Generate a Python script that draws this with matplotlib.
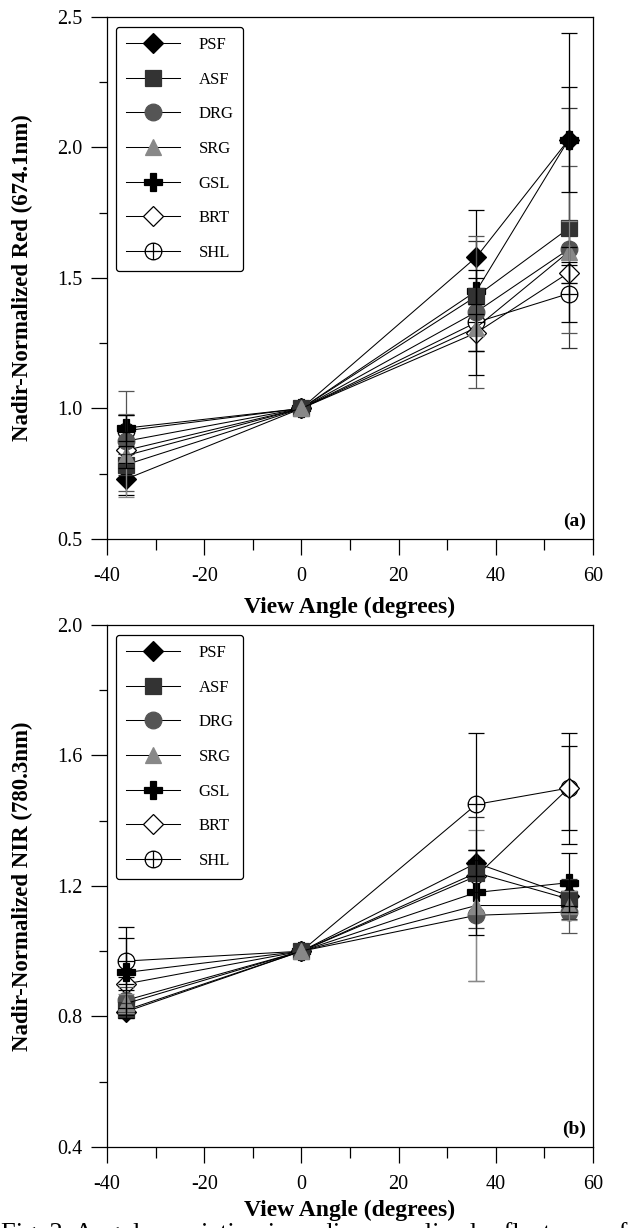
#!/usr/bin/env python

import numpy
from matplotlib import pyplot, ticker
from matplotlib.path import Path

angles = [-36, 0, 36, 55]
sites = ["PSF", "ASF", "DRG", "SRG", "GSL", "BRT", "SHL"]

# nadir-normalized red (674.1 nm), mean and spread per site
red_psf = [0.73, 1.00, 1.58, 2.03]
red_asf = [0.785, 1.00, 1.43, 1.69]
red_drg = [0.875, 1.00, 1.37, 1.61]
red_srg = [0.82, 1.00, 1.31, 1.60]
red_gsl = [0.925, 1.00, 1.45, 2.03]
red_brt = [0.84, 1.00, 1.29, 1.52]
red_shl = [0.915, 1.00, 1.33, 1.44]

red_psf_err = [0.06, 0.0, 0.18, 0.41]
red_asf_err = [0.04, 0.0, 0.21, 0.46]
red_drg_err = [0.19, 0.0, 0.29, 0.32]
red_srg_err = [0.16, 0.0, 0.09, 0.12]
red_gsl_err = [0.05, 0.0, 0.05, 0.20]
red_brt_err = [0.07, 0.0, 0.07, 0.04]
red_shl_err = [0.06, 0.0, 0.20, 0.11]

# nadir-normalized NIR (780.3 nm)
nir_psf = [0.815, 1.00, 1.27, 1.17]
nir_asf = [0.82, 1.00, 1.24, 1.16]
nir_drg = [0.85, 1.00, 1.11, 1.12]
nir_srg = [0.84, 1.00, 1.14, 1.14]
nir_gsl = [0.935, 1.00, 1.18, 1.21]
nir_brt = [0.90, 1.00, 1.23, 1.50]
nir_shl = [0.97, 1.00, 1.45, 1.50]

nir_psf_err = [0.01, 0.0, 0.04, 0.03]
nir_asf_err = [0.02, 0.0, 0.17, 0.06]
nir_drg_err = [0.04, 0.0, 0.20, 0.065]
nir_srg_err = [0.03, 0.0, 0.23, 0.045]
nir_gsl_err = [0.14, 0.0, 0.13, 0.09]
nir_brt_err = [0.02, 0.0, 0.05, 0.13]
nir_shl_err = [0.07, 0.0, 0.22, 0.17]


def circle_cross():
    circle = Path.unit_circle()
    verts = numpy.concatenate([circle.vertices, [[-1, 0], [1, 0], [0, -1], [0, 1]]])
    codes = numpy.concatenate(
        [circle.codes, [Path.MOVETO, Path.LINETO, Path.MOVETO, Path.LINETO]]
    )
    return Path(verts, codes)


styles = {
    "PSF": dict(marker="D", ms=10, fc="black", ec="black", z=4),
    "ASF": dict(marker="s", ms=11.5, fc="#333333", ec="#333333", z=6),
    "DRG": dict(marker="o", ms=12, fc="#555555", ec="#555555", z=5),
    "SRG": dict(marker="^", ms=12, fc="#888888", ec="#888888", z=7),
    "GSL": dict(marker="P", ms=13, fc="black", ec="black", z=3),
    "BRT": dict(marker="D", ms=10, fc="white", ec="black", z=2),
    "SHL": dict(marker=circle_cross(), ms=12, fc="white", ec="black", z=1),
}


def panel(ax, values, errors, ylim, step, ylabel, tag, xlabel_y):
    x = numpy.array(angles)
    for name, y, e in zip(sites, values, errors):
        st = styles[name]
        y = numpy.array(y)
        e = numpy.array(e)
        ax.plot(x, y, color="black", lw=0.75, marker=st["marker"], ms=st["ms"],
                mfc=st["fc"], mec=st["ec"], mew=0.9, label=name, zorder=st["z"])
        m = e > 0
        ax.errorbar(x[m], y[m], yerr=e[m], fmt="none", ecolor=st["ec"],
                    elinewidth=0.9, capsize=5.5, capthick=0.9, zorder=8)

    ax.set_xlim(-40, 60)
    ax.set_ylim(*ylim)
    ax.xaxis.set_major_locator(ticker.MultipleLocator(20))
    ax.xaxis.set_minor_locator(ticker.MultipleLocator(10))
    ax.yaxis.set_major_locator(ticker.MultipleLocator(step))
    ax.yaxis.set_minor_locator(ticker.MultipleLocator(step / 2))
    ax.yaxis.set_major_formatter(ticker.FormatStrFormatter("%.1f"))

    ax.tick_params(which="both", direction="out", top=False, right=False, width=0.9)
    ax.tick_params(which="major", length=11.5, labelsize=14.5)
    ax.tick_params(axis="y", which="major", pad=6)
    ax.tick_params(axis="x", which="major", pad=9)
    ax.tick_params(axis="x", which="minor", length=8)
    ax.tick_params(axis="y", which="minor", length=6)
    for s in ax.spines.values():
        s.set_linewidth(0.9)

    ax.set_xlabel("View Angle (degrees)", fontsize=17, fontweight="bold")
    ax.xaxis.set_label_coords(0.5, xlabel_y)
    ax.set_ylabel(ylabel, fontsize=16.5, fontweight="bold")
    ax.yaxis.set_label_coords(-0.173, 0.5)
    ax.yaxis.label.set_verticalalignment("center")

    ax.text(0.985, 0.018, tag, transform=ax.transAxes, ha="right", va="bottom",
            fontsize=14, fontweight="bold")

    leg = ax.legend(loc="upper left", bbox_to_anchor=(0.0185, 0.981),
                    borderaxespad=0, fontsize=12, handlelength=3.25,
                    handletextpad=1.1, labelspacing=1.12, borderpad=0.6,
                    fancybox=True, framealpha=1)
    leg.get_frame().set_edgecolor("black")
    leg.get_frame().set_linewidth(0.9)


def plot():
    pyplot.rcParams["font.family"] = ["Liberation Serif", "DejaVu Serif"]
    pyplot.rcParams["axes.unicode_minus"] = False

    fig = pyplot.figure(figsize=(6.43, 12.28), dpi=100)
    ax1 = fig.add_axes([0.1664, 0.5611, 0.7558, 0.4251])
    ax2 = fig.add_axes([0.1664, 0.0660, 0.7558, 0.4251])

    red = [red_psf, red_asf, red_drg, red_srg, red_gsl, red_brt, red_shl]
    red_err = [red_psf_err, red_asf_err, red_drg_err, red_srg_err,
               red_gsl_err, red_brt_err, red_shl_err]
    nir = [nir_psf, nir_asf, nir_drg, nir_srg, nir_gsl, nir_brt, nir_shl]
    nir_err = [nir_psf_err, nir_asf_err, nir_drg_err, nir_srg_err,
               nir_gsl_err, nir_brt_err, nir_shl_err]

    panel(ax1, red, red_err, (0.5, 2.5), 0.5, "Nadir-Normalized Red (674.1nm)", "(a)", -0.11)
    panel(ax2, nir, nir_err, (0.4, 2.0), 0.4, "Nadir-Normalized NIR (780.3nm)", "(b)", -0.102)

    # caption line, running off the bottom edge
    fig.text(0.002, 1 - 1222 / 1228,
             "Fig. 2. Angular variation in nadir-normalized reflectance of",
             fontsize=19, ha="left", va="top")

    fig.savefig("out.png", dpi=100)


plot()
